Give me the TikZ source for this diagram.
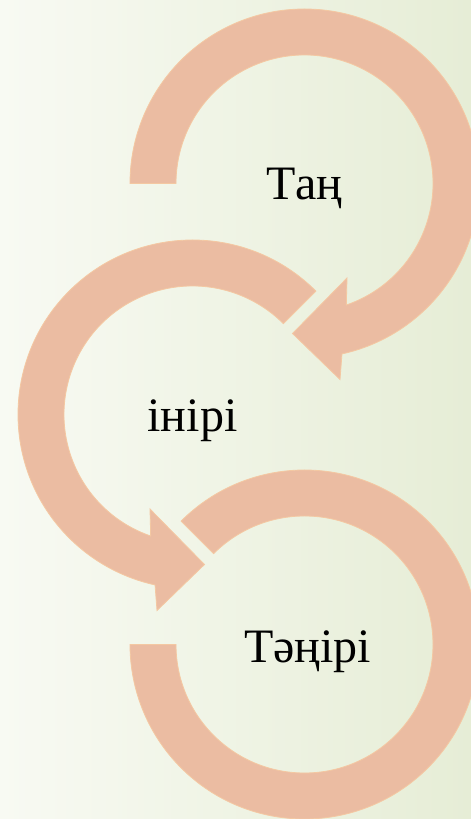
\documentclass[tikz,border=0pt]{standalone}
\usepackage{fontspec}
\setmainfont{Liberation Serif}
\definecolor{bgleft}{RGB}{248,250,243}
\definecolor{bgright}{RGB}{230,237,214}
\definecolor{ringfill}{RGB}{235,188,162}
\definecolor{ringedge}{RGB}{244,200,162}
\tikzset{
  ring/.style={fill=ringfill, draw=ringedge, line width=0.8pt, line join=miter},
  label/.style={anchor=base, text=black, font=\fontsize{48}{58}\selectfont, inner sep=0pt}
}
\begin{document}
\begin{tikzpicture}[x=1pt,y=1pt]
\useasboundingbox (0,0) rectangle (471,819);
\clip (0,0) rectangle (471,819);
\shade[left color=bgleft, right color=bgright] (0,0) rectangle (471,819);
\coordinate (C1) at (304.5,635.5);
\coordinate (C2) at (192.5,404.5);
\coordinate (C3) at (304.5,174.5);
% top arrow
\begin{scope}[shift={(C1)}]
\path[ring] (180:128.5) -- (180:174.5) arc[start angle=180,end angle=-77.6,radius=174.5]
  -- (35.5,-196) -- (-12,-150) -- (42.5,-94.5) -- (-71:128.5)
  arc[start angle=-71,end angle=180,radius=128.5] -- cycle;
\end{scope}
% middle arrow
\begin{scope}[shift={(C2)}]
\path[ring] (45:128.5) -- (45:174.5) arc[start angle=45,end angle=257.6,radius=174.5]
  -- (-35.5,-196) -- (12,-150) -- (-42.5,-94.5) -- (251:128.5)
  arc[start angle=251,end angle=45,radius=128.5] -- cycle;
\end{scope}
% bottom ring
\begin{scope}[shift={(C3)}]
\path[ring] (135:128.5) -- (135:174.5) arc[start angle=135,end angle=-180,radius=174.5]
  -- (180:128.5) arc[start angle=-180,end angle=135,radius=128.5] -- cycle;
\end{scope}
\node[label] (t1) at (304.5,619) {Таң};
\node[label] (t2) at (192.5,387.5) {інірі};
\node[label] (t3) at (307.5,156) {Тәңірі};
\end{tikzpicture}
\end{document}
